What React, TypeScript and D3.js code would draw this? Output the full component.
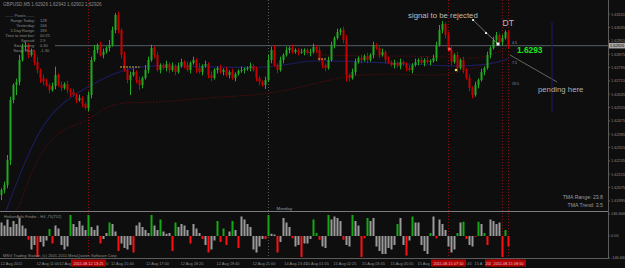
import React from 'react';
import * as d3 from 'd3';

// prices are kept in pips above this base (open of a bar = close of the bar before)
const BASE_PRICE = 1.62;
const firstOpenPips = 3;
const closePips = [
  6, 9, 24, 60, 69, 70.8, 84, 91.8, 93, 87,
  88.8, 82.8, 78, 73.2, 70.8, 69, 66, 68.4, 75, 69,
  67.2, 69.6, 66, 64.8, 63, 60, 61.2, 57.6, 55.2, 63,
  84, 90, 93, 87, 88.8, 91.2, 93, 102, 111, 102,
  87, 78, 72, 75, 76.8, 72, 69, 73.2, 78, 84,
  91.2, 87, 78, 81, 79.2, 81.6, 78, 80.4, 76.8, 80.4,
  82.8, 81, 78, 82.2, 84, 79.2, 76.8, 80.4, 81.6, 75,
  73.2, 78, 79.2, 76.8, 78, 75, 76.8, 73.2, 75.6, 77.4,
  78, 78.6, 79.2, 80.4, 78, 73.2, 70.8, 69, 72, 84,
  90, 81, 78, 84, 87, 90, 91.2, 88.8, 90, 88.8,
  88.8, 90, 88.2, 88.8, 91.8, 90, 84, 81, 79.2, 84,
  93, 97.2, 100.8, 102, 96, 75, 73.2, 76.8, 82.8, 85.2,
  84, 86.4, 84, 87, 93, 91.2, 87, 88.8, 84, 82.8,
  81, 82.2, 80.4, 82.8, 81.6, 79.2, 78, 81, 82.8, 84,
  82.2, 84, 82.8, 83.4, 85.2, 93, 102, 105.6, 99, 90,
  82.8, 87, 79.2, 84, 78, 73.2, 67.2, 63, 69, 72,
  76.8, 79.2, 87, 91.2, 96, 99, 94.8, 97.2, 100.8, 92.6,
];
const upperWickPips = [
  1, 2, 3, 2, 1, 2, 3, 2, 2, 1,
  2, 1, 3, 1, 2, 2, 1, 2, 5, 1,
  2, 1, 2, 1, 2, 1, 2, 1, 1, 2,
  2, 3, 1, 2, 2, 1, 3, 2, 1.2, 2,
  1, 2, 1, 2, 2, 1, 2, 1, 3, 2,
  2, 1, 2, 1, 1, 2, 1, 2, 1, 2,
  2, 1, 2, 1, 2, 1, 3, 1, 2, 1,
  2, 1, 1, 2, 1, 2, 1, 2, 1, 1,
  2, 1, 1, 2, 1, 2, 1, 1, 2, 3,
  2, 3, 1, 2, 1, 2, 1, 2, 1, 1,
  2, 1, 1, 2, 2, 1, 2, 1, 1, 2,
  2, 1, 2, 1.2, 2, 3, 1, 2, 2, 1,
  2, 1, 2, 1, 2, 1, 1, 2, 1, 2,
  1, 2, 1, 2, 1, 1, 2, 1, 2, 1,
  2, 1, 2, 1, 2, 2, 3, 1.8, 1, 2,
  2, 1, 2, 1, 2, 1, 2, 1, 2, 1,
  2, 1, 2, 1, 2, 1.8, 1, 2, 1, 1,
];
const lowerWickPips = [
  3, 2, 2, 3, 2, 6, 2, 1, 2, 2,
  1, 2, 2, 3, 2, 1, 2, 1, 2, 1,
  2, 1, 2, 3, 1, 2, 1, 2, 1, 2,
  2, 1, 2, 1, 2, 1, 2, 1, 2, 2,
  2, 1, 2, 9, 1, 2, 3, 2, 1, 2,
  1, 2, 1, 2, 1, 2, 2, 1, 2, 1,
  1, 2, 1, 2, 1, 3, 1, 2, 1, 2,
  2, 1, 2, 1, 2, 1, 2, 1, 2, 1,
  1, 2, 1, 2, 1, 2, 2, 1, 2.4, 1,
  2, 1, 2, 1, 2, 1, 2, 1, 1, 2,
  1, 2, 1, 2, 1, 2, 1, 2, 2, 1,
  1, 2, 1, 2, 2, 4, 2, 1, 2, 1,
  2, 1, 2, 1, 2, 1, 2, 1, 2, 1,
  1, 2, 1, 2, 1, 2, 1, 2, 1, 2,
  1, 2, 1, 2, 1, 2, 1, 2, 2, 1,
  2, 1, 2.4, 1, 2, 1, 2, 2, 1, 2,
  1, 2, 1, 2, 1, 2, 1, 2, 1, 2,
];

// sub window histogram: value and colour code (n = grey, g = green, r = red)
const histValues = [
  90, 70, 110, 60, 100, 80, 120, 70, 50, -25,
  -90, -60, -140, -40, -70, -30, 47, -50, 70, 50,
  -60, -90, -70, 140, 80, 60, 100, 70, 40, 140,
  60, 40, 70, -50, -20, 20, 90, 80, 30, -100,
  -50, -80, -90, -60, -110, 70, 90, 60, 40, 20,
  140, 70, 40, 110, 30, 15, 20, -100, 90, 60,
  80, 70, 40, -50, 80, 50, 20, -20, -60, -110,
  -90, -30, 100, -40, 50, -60, 30, 100, 40, -80,
  130, 110, 80, 60, -90, -110, -70, -20, -20, 140,
  15, 10, -110, -40, 120, 90, 60, -15, -70, -60,
  -140, -50, -50, -20, 110, 20, -25, -70, -80, 140,
  110, 130, 120, 100, -25, -60, -70, 140, 100, 70,
  -140, -15, 120, 100, 120, -70, -100, -120, -120, -80,
  -90, -60, 80, 120, -60, -130, -30, 130, 90, 90,
  -60, -100, -120, 20, 130, -15, 110, 80, 40, -70,
  -110, -90, 20, 90, 95, -20, -60, -70, -5, 95,
  80, 20, -60, 110, 100, 80, 90, -140, 40, -70,
];
const histColors =
  'nnnnnnnnnr' + 'nnrnnngrnn' + 'nnngnnnnng' + 'nnnrnngnnr' + 'nnnnrnnnnn' +
  'gnngnnnrgn' + 'nnnrnnnrnr' + 'nngrgrngnr' + 'nnnnnnnnrg' + 'nnrnnnnrnn' +
  'rnnnggrnng' + 'nnnnrnngnn' + 'rrgnnnnnnn' + 'nngnnrngnn' + 'nnngnrnnnn' +
  'nngngrnnrg' + 'ngrnnnnrgr';

const priceTicks = [1.63115, 1.63035, 1.62955, 1.62875, 1.62795, 1.62715, 1.62635, 1.62555,
  1.62475, 1.62395, 1.62315, 1.62235, 1.62155, 1.62075, 1.61995];
const lastPrice = 1.62926;
const subTicks = [146.666, 0, -146.666];
const subTickLabels = ['146.666', '0.00', '-146.666'];

// moving average and band, read at a few bars (pips above base)
const maBars = [1, 6, 11, 16, 23, 30, 36, 43, 50, 66, 90, 100, 105, 133, 150, 163, 169];
const maPips = [-9, 15, 36, 51, 62, 69, 75, 79, 81, 80, 79, 83, 84, 82, 80, 81, 85];
const lowBandBars = [5, 6, 10.5, 16, 22, 28.5, 33, 39.5, 50.5, 72, 88.5, 105, 116, 133, 146, 156, 163, 169];
const lowBandPips = [-6, -4, 20, 36, 44, 47, 54, 59, 58, 62, 63, 70, 75, 76, 74, 78, 82, 84];
const upBandBars = [105, 120, 135, 150, 160, 169];
const upBandPips = [87, 86.4, 86.4, 85.8, 84, 91.8];

const signalStart = [39.5, 105.5];
const signalEnd = [46, 108.5];
const signalPips = [79.8, 84.6];

const vlineBars = [29, 149, 167, 169];
// stamps as they show on the time axis (the third one is mostly covered by the fourth)
const vlineStamps = ['2011.08.12 13:25', '2011.08.15 07:10', '201', '2011.08.15 08:50'];
const mondayBar = 89;
const futureLineBar = 183.5;

// time axis texts as they show between the red stamps (some are cut by them)
const timeLabels = ['12 Aug 2011', '12 Aug 11:00', '12 Aug', '20', '12 Aug 15:40',
  '12 Aug 17:00', '12 Aug 18:20', '12 Aug 19:40', '12 Aug 21:00', '14 Aug 23:45', '15 Aug 01:05',
  '15 Aug 02:25', '15 Aug 03:45', '15 Aug 05:05', '15 Aug', '7:45', '15 A'];
const timeLabelBars = [0, 12, 19.6, 34.5, 36.8, 48.5, 60, 72, 84, 94.6, 101.8, 111, 120.5, 130, 139, 154.5, 158];

const infoLabels = ['Range Today:', 'Yesterday:', '5 Day Range:', 'Time to next bar:', 'Spread:', 'Swap Long:', 'Swap Short:'];
const infoValues = ['128', '166', '183', '00:25', '2.9', '0.30', '-1.30'];

const W = 625, H = 268;
const AXIS_X = 608, MAIN_BOTTOM = 211, SUB_BOTTOM = 258;
const BULL = '#22a822', BEAR = '#c80000';
const TXT = '#8c8c8c';
const FONT = '"Liberation Sans", Arial, sans-serif';

const toPrice = (p: number) => BASE_PRICE + p / 10000;

export default function App() {
  const x = d3.scaleLinear().domain([0, 169]).range([1.5, 508.5]);
  const y = d3.scaleLinear().domain([1.62, 1.632]).range([200, 0]);
  const ySub = d3.scaleLinear().domain([-146.666, 146.666]).range([SUB_BOTTOM, 214]);

  const candles = closePips.map((c, i) => {
    const o = i === 0 ? firstOpenPips : closePips[i - 1];
    const hi = Math.max(o, c) + upperWickPips[i];
    const lo = Math.min(o, c) - lowerWickPips[i];
    return { i, o: toPrice(o), c: toPrice(c), h: toPrice(hi), l: toPrice(lo) };
  });

  const line = d3.line<[number, number]>().x(d => x(d[0])).y(d => y(toPrice(d[1]))).curve(d3.curveBasis);
  const maPath = line(maBars.map((b, k) => [b, maPips[k]]));
  const lowPath = line(lowBandBars.map((b, k) => [b, lowBandPips[k]]));
  const upPath = line(upBandBars.map((b, k) => [b, upBandPips[k]]));

  const histFill: Record<string, string> = { n: '#9a9a9a', g: '#14a814', r: '#ff1010' };
  const lastY = y(lastPrice);

  return (
    <div style={{ position: 'absolute', left: 0, top: 0 }}>
      <svg width={W} height={H} style={{ display: 'block', background: '#0e0e0e', fontFamily: FONT }}>
        <defs>
          <clipPath id="mainClip"><rect x={0} y={0} width={AXIS_X} height={MAIN_BOTTOM} /></clipPath>
          <clipPath id="subClip"><rect x={0} y={MAIN_BOTTOM + 1} width={AXIS_X} height={SUB_BOTTOM - MAIN_BOTTOM - 1} /></clipPath>
        </defs>

        {/* vertical separators */}
        {vlineBars.map(b => (
          <line key={'v' + b} x1={x(b)} x2={x(b)} y1={0} y2={SUB_BOTTOM} stroke="#8a1212" strokeDasharray="1,2" />
        ))}
        <line x1={x(mondayBar)} x2={x(mondayBar)} y1={0} y2={SUB_BOTTOM} stroke="#5a5a5a" strokeDasharray="1,2" />

        {/* current price line */}
        <line x1={55} x2={AXIS_X} y1={lastY} y2={lastY} stroke="#66717c" strokeWidth={0.8} />

        <g clipPath="url(#mainClip)">
          <path d={lowPath || ''} fill="none" stroke="#640b0b" strokeDasharray="1.2,1.6" />
          <path d={upPath || ''} fill="none" stroke="#640b0b" strokeDasharray="1.2,1.6" />
          <path d={maPath || ''} fill="none" stroke="#1a1c5c" strokeWidth={1.1} />

          {candles.map(d => {
            const col = d.c >= d.o ? BULL : BEAR;
            const top = y(Math.max(d.o, d.c));
            const bot = y(Math.min(d.o, d.c));
            return (
              <g key={d.i}>
                <line x1={x(d.i)} x2={x(d.i)} y1={y(d.h)} y2={y(d.l)} stroke={col} strokeWidth={1} />
                <rect x={x(d.i) - 1} y={top} width={2} height={Math.max(1, bot - top)} fill={col} />
              </g>
            );
          })}

          {signalPips.map((p, k) => (
            <line key={'s' + k} x1={x(signalStart[k])} x2={x(signalEnd[k])} y1={y(toPrice(p))} y2={y(toPrice(p))}
              stroke="#c8b432" strokeWidth={1} strokeDasharray="2,1" />
          ))}

          {/* signal markers */}
          <circle cx={x(149.3)} cy={y(toPrice(90.6))} r={1.6} fill="#ff5050" />
          <circle cx={x(151.5)} cy={y(toPrice(78))} r={1.3} fill="#f0e060" />

          {/* annotations */}
          <line x1={x(157.2)} y1={y(toPrice(108))} x2={x(165.5)} y2={y(toPrice(93.6))} stroke="#9a9a9a" strokeWidth={0.7} />
          <rect x={x(157.2) - 1} y={y(toPrice(108)) - 1} width={2} height={2} fill="#e0e0e0" />
          <rect x={x(161.5) - 1} y={y(toPrice(100.2)) - 1} width={2} height={2} fill="#e0e0e0" />
          <rect x={x(165.5) - 1.5} y={y(toPrice(93.6)) - 1.5} width={3} height={3} fill="#f0f0f0" />
          <line x1={x(169.5)} y1={y(toPrice(87))} x2={x(185.2)} y2={y(toPrice(70.8))} stroke="#8a8a8a" strokeWidth={0.7} />
          <line x1={x(futureLineBar)} x2={x(futureLineBar)} y1={y(toPrice(106.8))} y2={y(toPrice(52.2))} stroke="#18186a" strokeWidth={1} />

          <text x={x(135.5)} y={y(toPrice(109.2))} fontSize={7.8} fill="#bdbdbd">signal to be rejected</text>
          <text x={x(167)} y={y(toPrice(104.4))} fontSize={8.5} fill="#bdbdbd">DT</text>
          <text x={x(178.8)} y={y(toPrice(64.8))} fontSize={7.8} fill="#b0b0b0">pending here</text>
          <text x={x(170.2)} y={y(toPrice(93.6))} fontSize={3.6} fill="#9a9a9a">4.5</text>
          <text x={x(170.2)} y={y(toPrice(81.6))} fontSize={3.6} fill="#9a9a9a">7.5</text>
          <text x={x(170.2)} y={y(toPrice(69))} fontSize={3.6} fill="#9a9a9a">19.5</text>
          <text x={x(171.8)} y={y(toPrice(88.2))} fontSize={8.4} fontWeight="bold" fill="#1fe01f">1.6293</text>
        </g>

        {/* header and info panel */}
        <text x={3} y={6} fontSize={4.6} fill={TXT}>GBPUSD,M5  1.62926 1.62943 1.62902 1.62926</text>
        <text x={20} y={16.5} fontSize={4} fill={TXT} textAnchor="middle">------  Pivots  ------</text>
        {infoLabels.map((l, k) => (
          <g key={l}>
            <text x={35} y={21.5 + k * 5} fontSize={4} fill={TXT} textAnchor="end">{l}</text>
            <text x={40} y={21.5 + k * 5} fontSize={4} fill={TXT}>{infoValues[k]}</text>
          </g>
        ))}
        <text x={603} y={199} fontSize={5.2} fill="#9c9c9c" textAnchor="end">TMA Range: 23.8</text>
        <text x={603} y={207} fontSize={5.2} fill="#9c9c9c" textAnchor="end">TMA Trend: 3.5</text>
        <text x={x(mondayBar) + 8} y={209.5} fontSize={4.4} fill="#9a9a9a">Monday</text>

        {/* sub window */}
        <g clipPath="url(#subClip)">
          {histValues.map((v, i) => {
            const y0 = ySub(0), y1 = ySub(v);
            return (
              <rect key={'h' + i} x={x(i) - 1} y={Math.min(y0, y1)} width={2} height={Math.abs(y1 - y0)}
                fill={histFill[histColors[i]]} />
            );
          })}
        </g>
        <text x={4} y={217.5} fontSize={4} fill={TXT}>HeikenAshi Finder - H4 ,75(752)</text>
        <text x={3} y={257} fontSize={4} fill={TXT}>MSG Trading Station, (c) 2001-2011 MetaQuotes Software Corp.</text>

        {/* frame */}
        <line x1={0} x2={AXIS_X} y1={MAIN_BOTTOM + 0.5} y2={MAIN_BOTTOM + 0.5} stroke="#7a7a7a" />
        <line x1={0} x2={AXIS_X} y1={SUB_BOTTOM + 0.5} y2={SUB_BOTTOM + 0.5} stroke="#5c5c5c" />
        <line x1={AXIS_X + 0.5} x2={AXIS_X + 0.5} y1={0} y2={SUB_BOTTOM + 1} stroke="#5c5c5c" />

        {/* price axis */}
        {priceTicks.map(p => (
          <g key={p}>
            <line x1={AXIS_X} x2={AXIS_X + 2} y1={y(p)} y2={y(p)} stroke="#5c5c5c" />
            <text x={611} y={y(p) + 1.4} fontSize={3.9} fill={TXT}>{p.toFixed(5)}</text>
          </g>
        ))}
        <rect x={AXIS_X + 1} y={lastY - 2.8} width={16} height={5.6} fill="#a8a8a8" />
        <text x={610} y={lastY + 1.4} fontSize={3.9} fill="#101010">{lastPrice.toFixed(5)}</text>
        {subTicks.map((v, k) => (
          <g key={'st' + k}>
            <line x1={AXIS_X} x2={AXIS_X + 2} y1={ySub(v)} y2={ySub(v)} stroke="#5c5c5c" />
            <text x={611} y={ySub(v) + 1.4} fontSize={3.9} fill={TXT}>{subTickLabels[k]}</text>
          </g>
        ))}

        {/* time axis */}
        {timeLabels.map((t, k) => (
          <text key={t + k} x={x(timeLabelBars[k]) - 1} y={265} fontSize={3.9} fill={TXT}>{t}</text>
        ))}
        {vlineBars.map((b, k) => {
          const short = vlineStamps[k].length < 6;
          return (
            <g key={'ts' + b}>
              <rect x={x(b) - 17.5} y={259.5} width={35} height={7} fill="#b00000" />
              <text x={short ? x(b) - 17 : x(b)} y={265} fontSize={3.9} fill="#e8c8c8"
                textAnchor={short ? 'start' : 'middle'}>{vlineStamps[k]}</text>
            </g>
          );
        })}
      </svg>
    </div>
  );
}
